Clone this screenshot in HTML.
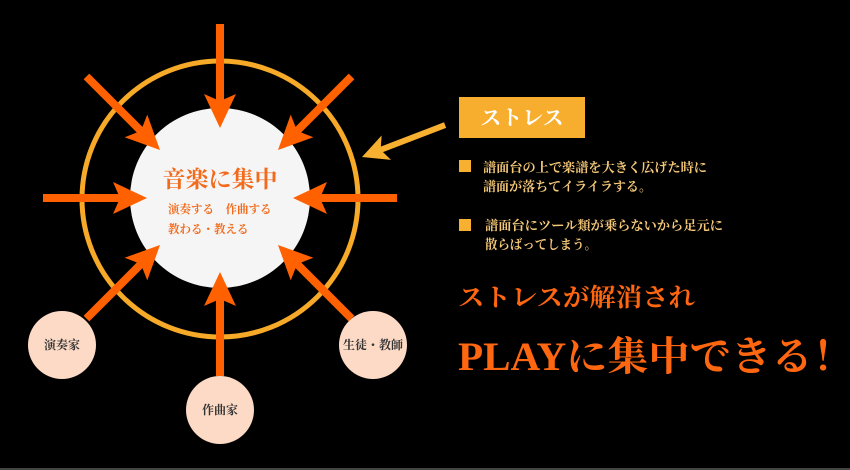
<!DOCTYPE html>
<html><head><meta charset="utf-8"><style>
html,body{margin:0;padding:0;background:#000;}
svg{display:block;}
text{font-family:"Liberation Serif","Noto Serif CJK SC","Noto Sans CJK JP",serif;font-weight:bold;}
</style></head><body>
<svg width="850" height="470" viewBox="0 0 850 470" xmlns="http://www.w3.org/2000/svg">
<rect width="850" height="470" fill="#000"/>
<rect x="0" y="468" width="850" height="2" fill="#444"/>
<circle cx="220" cy="199" r="138" fill="none" stroke="#f7a928" stroke-width="5"/>
<circle cx="220" cy="198" r="90" fill="#f5f5f5"/>
<defs>
<g id="ar">
<rect x="-104" y="-4" width="78" height="8" fill="#ff6000"/>
<polygon points="0,0 -34,-16 -27,0 -34,16" fill="#ff6000"/>
</g>
</defs>
<use href="#ar" transform="translate(220,128) rotate(90)"/>
<use href="#ar" transform="translate(147,198) rotate(0)"/>
<use href="#ar" transform="translate(293,198) rotate(180)"/>
<use href="#ar" transform="translate(220,272) rotate(-90)"/>
<use href="#ar" transform="translate(160,150) rotate(45)"/>
<use href="#ar" transform="translate(278,150) rotate(135)"/>
<use href="#ar" transform="translate(160,245) rotate(-45)"/>
<use href="#ar" transform="translate(278,245) rotate(-135)"/>
<g transform="translate(362,157) rotate(159)">
<rect x="-89" y="-3" width="70" height="6" fill="#f7b030"/>
<polygon points="0,0 -26,-13 -20,0 -26,13" fill="#f7b030"/>
</g>
<text x="220" y="187" text-anchor="middle" font-size="23" fill="#f26a1b">音楽に集中</text>
<text x="168" y="213" font-size="11.5" fill="#f26a1b">演奏する　作曲する</text>
<text x="168" y="233" font-size="11.5" fill="#f26a1b">教わる・教える</text>
<circle cx="62" cy="345" r="34" fill="#fddac5"/>
<circle cx="220" cy="410" r="34" fill="#fddac5"/>
<circle cx="373" cy="345" r="34" fill="#fddac5"/>
<text x="62" y="349" text-anchor="middle" font-size="12" fill="#333">演奏家</text>
<text x="220" y="414" text-anchor="middle" font-size="12" fill="#333">作曲家</text>
<text x="373" y="349" text-anchor="middle" font-size="12" fill="#333">生徒・教師</text>
<rect x="459" y="97" width="126" height="41" fill="#f7ae2f"/>
<text x="522" y="125" text-anchor="middle" font-size="21" fill="#fff">ストレス</text>
<rect x="459" y="160" width="12" height="12" fill="#f7b030"/>
<text x="483" y="172" font-size="13" fill="#f5c878" textLength="224" lengthAdjust="spacingAndGlyphs">譜面台の上で楽譜を大きく広げた時に</text>
<text x="483" y="191" font-size="13" fill="#f5c878" textLength="169" lengthAdjust="spacingAndGlyphs">譜面が落ちてイライラする。</text>
<rect x="459" y="219" width="12" height="12" fill="#f7b030"/>
<text x="485" y="230" font-size="13" fill="#f5c878" textLength="238" lengthAdjust="spacingAndGlyphs">譜面台にツール類が乗らないから足元に</text>
<text x="485" y="249" font-size="13" fill="#f5c878" textLength="112" lengthAdjust="spacingAndGlyphs">散らばってしまう。</text>
<text x="458" y="306" font-size="25" fill="#ff6610" textLength="237" lengthAdjust="spacingAndGlyphs">ストレスが解消され</text>
<text x="458" y="370" font-size="40" fill="#ff6610" textLength="396" lengthAdjust="spacingAndGlyphs">PLAYに集中できる！</text>
</svg>
</body></html>
